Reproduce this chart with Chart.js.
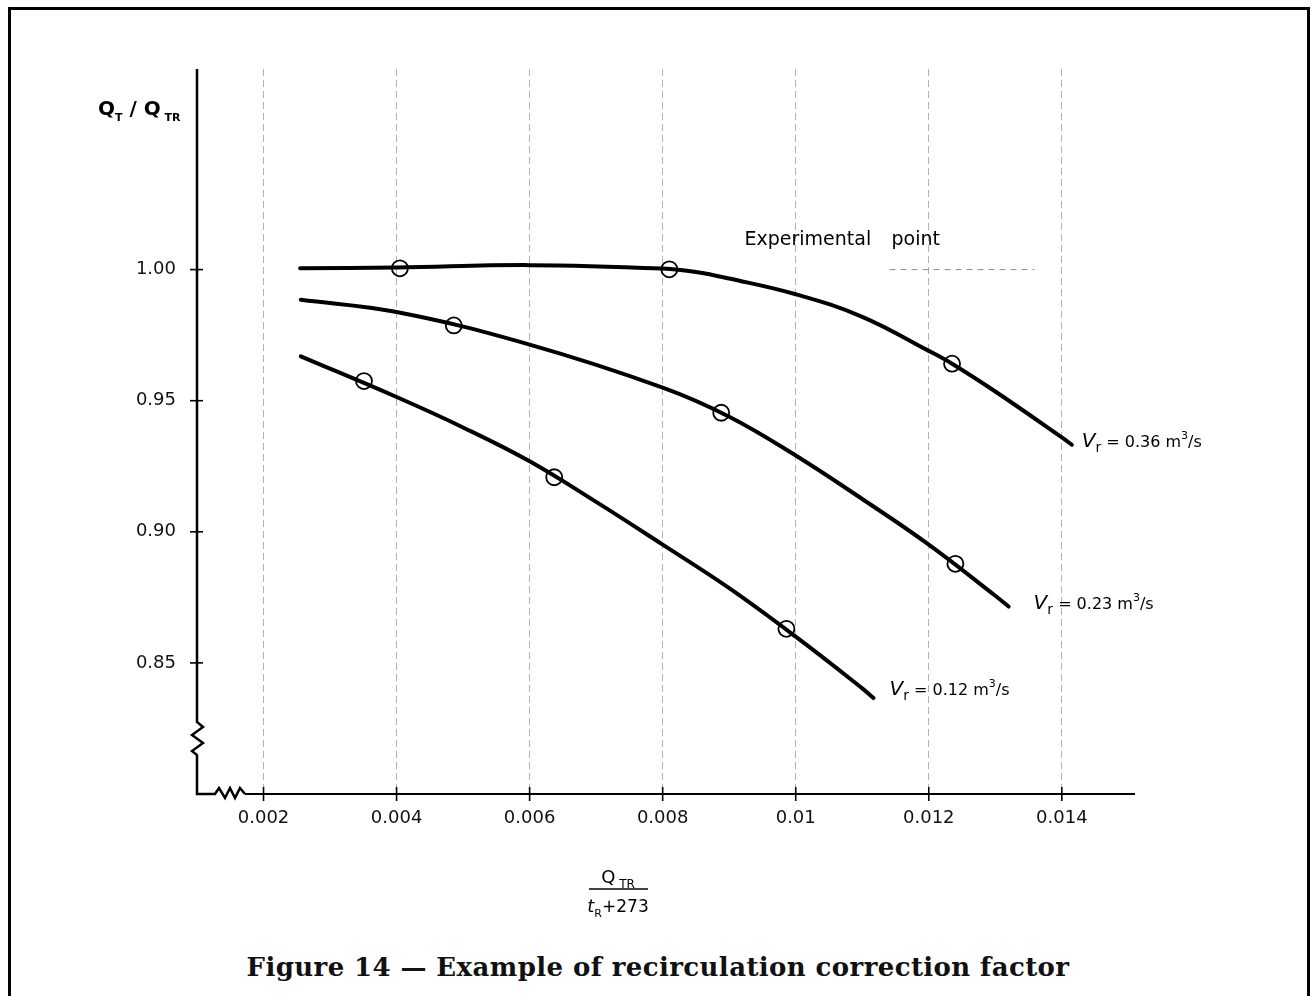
<!DOCTYPE html>
<html lang="en">
<head>
<meta charset="UTF-8">
<title>Figure 14 - Recirculation correction factor</title>
<script src="https://cdn.jsdelivr.net/npm/chart.js@4.4.1/dist/chart.umd.min.js"></script>
<style>
    body { margin: 0; background: #fff; }
    #page { position: relative; width: 1316px; height: 996px; overflow: hidden; }
    #frame { position: absolute; left: 8px; top: 7px; width: 1296px; height: 1010px; border: 3px solid #000; }
    #chart { position: absolute; left: 0; top: 0; }
    #caption { position: absolute; left: 0; top: 952px; width: 1316px; text-align: center;
               font: bold 26px "DejaVu Serif", serif; letter-spacing: 0.4px; color: #111; }
</style>
</head>
<body>
<div id="page">
    <div id="frame"></div>
    <canvas id="chart" width="1316" height="940"></canvas>
    <div id="caption">Figure 14 — Example of recirculation correction factor</div>
</div>

<script>
// axis ticks
const xTicks = [0.002, 0.004, 0.006, 0.008, 0.010, 0.012, 0.014];
const xTickLabels = ['0.002', '0.004', '0.006', '0.008', '0.01', '0.012', '0.014'];
const yTicks = [0.85, 0.90, 0.95, 1.00];
const yTickLabels = ['0.85', '0.90', '0.95', '1.00'];

// fitted curves
const curve036X = [0.00255, 0.004, 0.006, 0.008, 0.0085, 0.009, 0.010, 0.011, 0.012, 0.01235, 0.013, 0.014, 0.01415];
const curve036Y = [1.0005, 1.0008, 1.0017, 1.0004, 0.9991, 0.9966, 0.9906, 0.9820, 0.9690, 0.9641, 0.9535, 0.9360, 0.9332];
const curve023X = [0.00256, 0.004, 0.006, 0.008, 0.009, 0.010, 0.011, 0.012, 0.013, 0.0132];
const curve023Y = [0.9885, 0.9838, 0.9714, 0.9550, 0.9439, 0.9291, 0.9125, 0.8951, 0.8756, 0.8715];
const curve012X = [0.00256, 0.004, 0.005, 0.006, 0.007, 0.008, 0.009, 0.010, 0.011, 0.01117];
const curve012Y = [0.9669, 0.9514, 0.9398, 0.9269, 0.9114, 0.8951, 0.8785, 0.8600, 0.8403, 0.8366];

// experimental points (circles)
const pts036X = [0.00405, 0.0081, 0.01235];
const pts036Y = [1.0005, 1.0001, 0.9641];
const pts023X = [0.00486, 0.00888, 0.0124];
const pts023Y = [0.9787, 0.9454, 0.8878];
const pts012X = [0.00351, 0.00637, 0.00986];
const pts012Y = [0.9575, 0.9208, 0.8630];

// faint leader line near "Experimental point"
const leaderX = [0.01141, 0.01359];
const leaderY = [1.0, 1.0];

const curveLabels = ['0.36', '0.23', '0.12'];

const xy = (xs, ys) => xs.map((v, i) => ({x: v, y: ys[i]}));

function drawRuns(ctx, x, y, parts, align) {
    let w = 0;
    parts.forEach(p => { ctx.font = p[1]; w += ctx.measureText(p[0]).width; });
    let cx = align === 'center' ? x - w / 2 : x;
    parts.forEach(p => {
        ctx.font = p[1];
        ctx.fillText(p[0], cx, y + (p[2] || 0));
        cx += ctx.measureText(p[0]).width;
    });
    return w;
}

const paper = {
    id: 'paper',
    afterDraw(chart) {
        const {ctx, chartArea: a, scales: {x, y}} = chart;
        ctx.save();
        ctx.strokeStyle = '#000';
        ctx.fillStyle = '#000';
        ctx.lineJoin = 'miter';

        // y axis with break symbol
        const yb = a.bottom - 72;
        ctx.lineWidth = 2.5;
        ctx.beginPath();
        ctx.moveTo(a.left, a.top);
        ctx.lineTo(a.left, yb);
        ctx.lineTo(a.left + 6, yb + 5);
        ctx.lineTo(a.left - 5, yb + 13);
        ctx.lineTo(a.left + 6, yb + 21);
        ctx.lineTo(a.left - 5, yb + 29);
        ctx.lineTo(a.left, yb + 33);
        ctx.lineTo(a.left, a.bottom);
        // x axis with break symbol
        const xb = a.left + 18;
        ctx.lineTo(xb, a.bottom);
        ctx.lineTo(xb + 4, a.bottom - 6);
        ctx.lineTo(xb + 10, a.bottom + 4);
        ctx.lineTo(xb + 15, a.bottom - 6);
        ctx.lineTo(xb + 20, a.bottom + 4);
        ctx.lineTo(xb + 25, a.bottom - 6);
        ctx.lineTo(xb + 30, a.bottom);
        ctx.stroke();
        ctx.lineWidth = 2;
        ctx.beginPath();
        ctx.moveTo(xb + 30, a.bottom);
        ctx.lineTo(a.right, a.bottom);
        ctx.stroke();

        // crossing tick marks
        ctx.lineWidth = 1.6;
        xTicks.forEach(v => {
            const px = x.getPixelForValue(v);
            ctx.beginPath();
            ctx.moveTo(px, a.bottom - 7);
            ctx.lineTo(px, a.bottom + 7);
            ctx.stroke();
        });
        yTicks.forEach(v => {
            const py = y.getPixelForValue(v);
            ctx.beginPath();
            ctx.moveTo(a.left - 7, py);
            ctx.lineTo(a.left + 6, py);
            ctx.stroke();
        });

        ctx.textBaseline = 'alphabetic';
        ctx.textAlign = 'left';

        // y axis title
        drawRuns(ctx, a.left - 99, a.top + 46, [
            ['Q', 'bold 20px "DejaVu Sans"'],
            ['T', 'bold 11px "DejaVu Sans"', 6],
            [' / ', 'bold 20px "DejaVu Sans"'],
            ['Q', 'bold 20px "DejaVu Sans"'],
            [' TR', 'bold 11px "DejaVu Sans"', 6]
        ]);

        // x axis title as a fraction
        const cx = a.left + 421;
        drawRuns(ctx, cx, a.bottom + 89, [
            ['Q', '18px "DejaVu Sans"'],
            [' TR', '12px "DejaVu Sans"', 5]
        ], 'center');
        ctx.lineWidth = 1.5;
        ctx.beginPath();
        ctx.moveTo(cx - 29, a.bottom + 95);
        ctx.lineTo(cx + 30, a.bottom + 95);
        ctx.stroke();
        drawRuns(ctx, cx, a.bottom + 118, [
            ['t', 'italic 18px "DejaVu Sans"'],
            ['R', '11px "DejaVu Sans"', 5],
            ['+273', '17px "DejaVu Sans"']
        ], 'center');

        // curve labels, next to the curve ends
        const ends = [
            [curve036X, curve036Y, 10, 2],
            [curve023X, curve023Y, 25, 2],
            [curve012X, curve012Y, 16, -3]
        ];
        ends.forEach((e, i) => {
            const n = e[0].length - 1;
            const px = x.getPixelForValue(e[0][n]) + e[2];
            const py = y.getPixelForValue(e[1][n]) + e[3];
            drawRuns(ctx, px, py, [
                ['V', 'italic 20px "DejaVu Sans"'],
                ['r', '14px "DejaVu Sans"', 5],
                [' = ' + curveLabels[i] + ' m', '16px "DejaVu Sans"'],
                ['3', '11px "DejaVu Sans"', -8],
                ['/s', '16px "DejaVu Sans"']
            ]);
        });

        // experimental point note
        ctx.font = '19px "DejaVu Sans"';
        const ty = y.getPixelForValue(1.0095);
        ctx.fillText('Experimental', x.getPixelForValue(0.00923), ty);
        ctx.fillText('point', x.getPixelForValue(0.01144), ty);
        ctx.restore();
    }
};

const circleStyle = { showLine: false, pointRadius: 8, pointBorderWidth: 1.8,
                      pointBorderColor: '#000', pointBackgroundColor: 'rgba(0,0,0,0)' };
const curveStyle = { borderColor: '#000', borderWidth: 4, pointRadius: 0, tension: 0.4,
                     borderCapStyle: 'round' };

new Chart(document.getElementById('chart'), {
    type: 'line',
    data: {
        datasets: [
            { data: xy(pts036X, pts036Y), ...circleStyle },
            { data: xy(pts023X, pts023Y), ...circleStyle },
            { data: xy(pts012X, pts012Y), ...circleStyle },
            { data: xy(curve036X, curve036Y), ...curveStyle },
            { data: xy(curve023X, curve023Y), ...curveStyle },
            { data: xy(curve012X, curve012Y), ...curveStyle },
            { data: xy(leaderX, leaderY), borderColor: 'rgba(0,0,0,0.45)', borderWidth: 1,
              borderDash: [6, 5], pointRadius: 0 }
        ]
    },
    options: {
        responsive: false,
        animation: false,
        layout: { padding: { left: 0, top: 69, right: 181, bottom: 0 } },
        plugins: { legend: { display: false }, tooltip: { enabled: false } },
        scales: {
            x: {
                type: 'linear',
                min: 0.001,
                max: 0.0151,
                afterBuildTicks: s => { s.ticks = xTicks.map(v => ({value: v})); },
                afterFit: s => { s.height = 146; },
                ticks: {
                    callback: (v, i) => xTickLabels[i],
                    color: '#111',
                    font: { family: 'DejaVu Sans', size: 18 },
                    padding: 14,
                    maxRotation: 0
                },
                grid: { drawTicks: false, color: 'rgba(0,0,0,0.3)', lineWidth: 1 },
                border: { display: false, dash: [7, 4] }
            },
            y: {
                type: 'linear',
                min: 0.80,
                max: 1.0765,
                afterBuildTicks: s => { s.ticks = yTicks.map(v => ({value: v})); },
                afterFit: s => { s.width = 197; },
                ticks: {
                    callback: (v, i) => yTickLabels[i],
                    color: '#111',
                    font: { family: 'DejaVu Sans', size: 18 },
                    padding: 13
                },
                grid: { display: false },
                border: { display: false }
            }
        }
    },
    plugins: [paper]
});
</script>
</body>
</html>
